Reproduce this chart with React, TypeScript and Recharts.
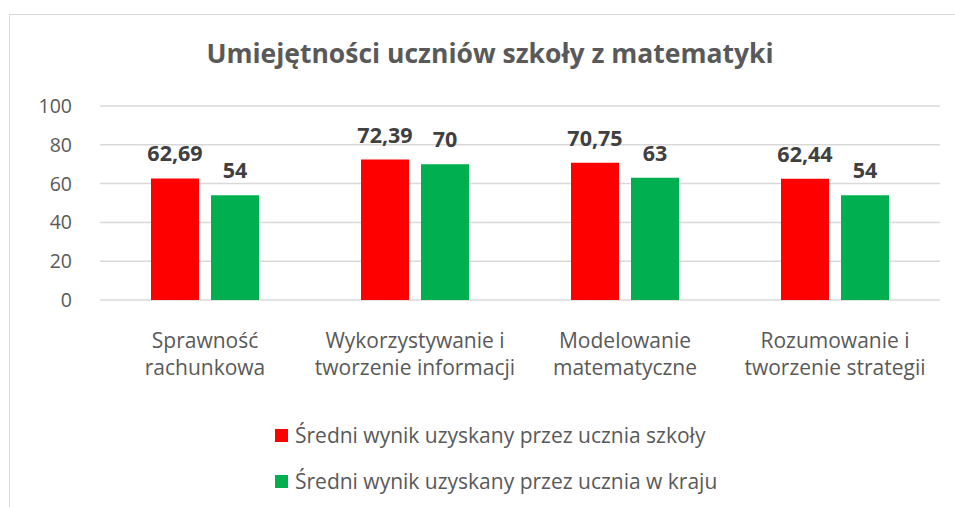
import { BarChart, Bar, XAxis, YAxis, CartesianGrid, Legend, LabelList } from "recharts";

const categories = [
  ["Sprawność", "rachunkowa"],
  ["Wykorzystywanie i", "tworzenie informacji"],
  ["Modelowanie", "matematyczne"],
  ["Rozumowanie i", "tworzenie strategii"],
];
const schoolScores = [62.69, 72.39, 70.75, 62.44];
const countryScores = [54, 70, 63, 54];
const yTicks = [0, 20, 40, 60, 80, 100];
const seriesNames = [
  "Średni wynik uzyskany przez ucznia szkoły",
  "Średni wynik uzyskany przez ucznia w kraju",
];
const seriesColors = ["#ff0000", "#00b050"];

const data = categories.map((c, i) => ({
  name: c.join("\n"),
  school: schoolScores[i],
  country: countryScores[i],
}));

const FONT = "'Open Sans', sans-serif";

const fmt = (v: any) => String(v).replace(".", ",");

function CategoryTick({ x, y, payload }: any) {
  const lines = String(payload.value).split("\n");
  return (
    <text x={x} y={y} textAnchor="middle" fill="#595959" fontSize={21} fontFamily={FONT}>
      {lines.map((l, i) => (
        <tspan key={i} x={x} dy={i === 0 ? 40 : 27}>
          {l}
        </tspan>
      ))}
    </text>
  );
}

function LegendBox() {
  return (
    <div style={{ fontFamily: FONT, fontSize: 21, color: "#595959" }}>
      {seriesNames.map((n, i) => (
        <div key={n} style={{ display: "flex", alignItems: "center", height: 46 }}>
          <span
            style={{
              display: "inline-block",
              width: 13,
              height: 13,
              background: seriesColors[i],
              marginRight: 7,
            }}
          />
          <span>{n}</span>
        </div>
      ))}
    </div>
  );
}

export default function App() {
  return (
    <div
      style={{
        position: "absolute",
        left: 0,
        top: 0,
        width: 955,
        height: 507,
        background: "#fff",
        overflow: "hidden",
      }}
    >
      <div
        style={{
          position: "absolute",
          left: 9,
          top: 14,
          width: 1000,
          height: 600,
          border: "1.5px solid #d9d9d9",
        }}
      />
      <div
        style={{
          position: "absolute",
          left: 0,
          width: 980,
          top: 35,
          textAlign: "center",
          fontFamily: FONT,
          fontWeight: 700,
          fontSize: 26.5,
          color: "#595959",
        }}
      >
        Umiejętności uczniów szkoły z matematyki
      </div>
      <div style={{ position: "absolute", left: 0, top: 0 }}>
        <BarChart
          width={955}
          height={507}
          data={data}
          margin={{ top: 106, right: 15, bottom: 127, left: 0 }}
          barSize={48}
          barGap={12}
        >
          <CartesianGrid vertical={false} stroke="#d9d9d9" strokeWidth={1.5} />
          <XAxis
            dataKey="name"
            axisLine={false}
            tickLine={false}
            height={80}
            interval={0}
            tick={<CategoryTick />}
          />
          <YAxis
            domain={[0, 100]}
            ticks={yTicks}
            width={100}
            axisLine={false}
            tickLine={false}
            tickMargin={22}
            tick={{ fill: "#595959", fontSize: 19.5, fontFamily: FONT }}
          />
          <Legend
            layout="vertical"
            align="center"
            verticalAlign="middle"
            wrapperStyle={{ top: 412, left: 275, width: "auto" }}
            content={<LegendBox />}
          />
          <Bar dataKey="school" name={seriesNames[0]} fill={seriesColors[0]} isAnimationActive={false}>
            <LabelList
              dataKey="school"
              position="top"
              offset={17}
              formatter={fmt}
              fill="#404040"
              fontSize={21.5}
              fontWeight={700}
              fontFamily={FONT}
            />
          </Bar>
          <Bar dataKey="country" name={seriesNames[1]} fill={seriesColors[1]} isAnimationActive={false}>
            <LabelList
              dataKey="country"
              position="top"
              offset={17}
              formatter={fmt}
              fill="#404040"
              fontSize={21.5}
              fontWeight={700}
              fontFamily={FONT}
            />
          </Bar>
        </BarChart>
      </div>
    </div>
  );
}
